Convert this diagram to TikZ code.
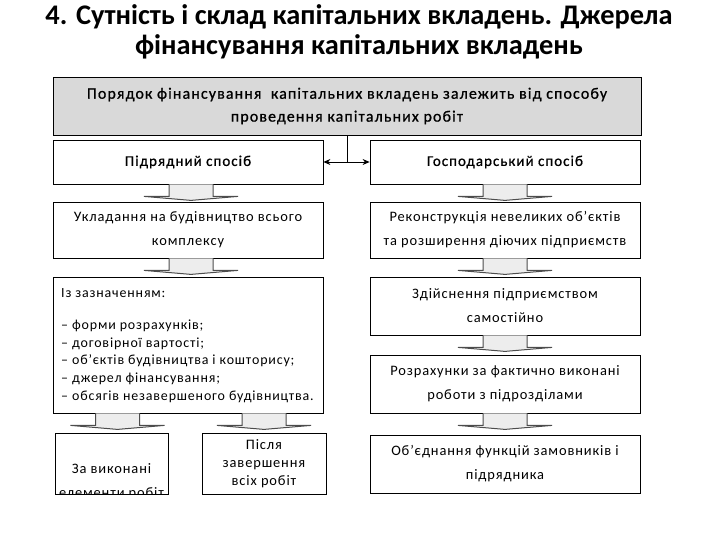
\documentclass[tikz,border=0pt]{standalone}
\usepackage{fontspec}
\setmainfont{Carlito}
\newfontfamily\boxfont[LetterSpace=6]{Carlito}
\newfontfamily\topfont[LetterSpace=7,FakeBold=0.8]{Carlito}
\usetikzlibrary{arrows.meta,positioning,calc}

\begin{document}
\begin{tikzpicture}[x=1bp, y=-1bp,
    box/.style={draw, line width=0.8bp, fill=white, minimum width=270bp, align=center, inner sep=2pt, font=\boxfont\fontsize{14.5}{24}\selectfont},
    smallbox/.style={box, minimum height=61bp},
    txt/.style={align=left, inner sep=0pt, font=\boxfont\fontsize{14}{18}\selectfont},
    dbl/.style={{Stealth[length=7bp,width=6bp]}-{Stealth[length=7bp,width=6bp]}, line width=0.8bp},
    blkarr/.pic={\draw[fill=black!7, draw=black!70, line width=1bp] (-22,0) -- (-22,12) -- (-47,12) -- (0,16) -- (47,12) -- (22,12) -- (22,0);}
]
\useasboundingbox (0,0) rectangle (720,540);

% title
\node[align=center, font=\bfseries\fontsize{28.5}{30}\selectfont] (title) at (359,32) {4. Сутність і склад капітальних вкладень. Джерела\\фінансування капітальних вкладень};

% top box and the two ways
\node[box, fill=black!15, minimum width=588bp, minimum height=58bp, font=\topfont\fontsize{16}{23}\selectfont] (top) at (347,106) {Порядок фінансування\ \ капітальних вкладень залежить від способу\\проведення капітальних робіт};
\node[box, minimum height=44bp, font=\topfont\fontsize{15}{23}\selectfont] (pidr) at (188,162) {Підрядний спосіб};
\node[box, minimum height=44bp, font=\topfont\fontsize{15}{23}\selectfont] (gosp) at (505,162) {Господарський спосіб};

\draw[line width=0.8bp] (top.south) -- (top.south |- pidr.east);
\draw[dbl] (pidr.east) -- (gosp.west);

% left column
\node[box, minimum height=56bp] (ukl) at (188,230) {Укладання на будівництво всього\\комплексу};
\node[box, minimum height=136bp] (vkaz) at (188,345) {};
\node[txt, anchor=north west] (vkaztxt) at (61,288) {Із зазначенням:\\[14bp]
– форми розрахунків;\\
– договірної вартості;\\
– об’єктів будівництва і кошторису;\\
– джерел фінансування;\\
– обсягів незавершеного будівництва.};
\node[smallbox, minimum width=113bp] (zavyk) at (111.5,463.5) {};
\begin{scope}
\clip (zavyk.south west) rectangle (zavyk.north east);
\node[align=center, font=\boxfont\fontsize{14.5}{25}\selectfont] (zavyktxt) at ($(zavyk.center)+(0,2)$) {\strut\\За виконані\\елементи робіт};
\end{scope}
\node[smallbox, minimum width=124bp, font=\boxfont\fontsize{14.5}{18}\selectfont] (pislya) at (264,463.5) {Після\\завершення\\всіх робіт};

% right column
\node[box, minimum height=56bp] (rek) at (505,230) {Реконструкція невеликих об’єктів\\та розширення діючих підприємств};
\node[box, minimum height=58bp] (zdiy) at (505,306) {Здійснення підприємством\\самостійно};
\node[box, minimum height=58bp] (rozr) at (505,384) {Розрахунки за фактично виконані\\роботи з підрозділами};
\node[box, minimum height=58bp] (obyed) at (505,464) {Об’єднання функцій замовників і\\підрядника};

% block arrows
\pic at ($(pidr.south)+(3,0)$) {blkarr};
\pic at ($(ukl.south)+(3,0)$) {blkarr};
\pic at ($(vkaz.south -| zavyk.north)+(6,0)$) {blkarr};
\pic at (vkaz.south -| pislya.north) {blkarr};
\pic at (gosp.south) {blkarr};
\pic at (rek.south) {blkarr};
\pic at (zdiy.south) {blkarr};
\pic at (rozr.south) {blkarr};
\end{tikzpicture}
\end{document}
